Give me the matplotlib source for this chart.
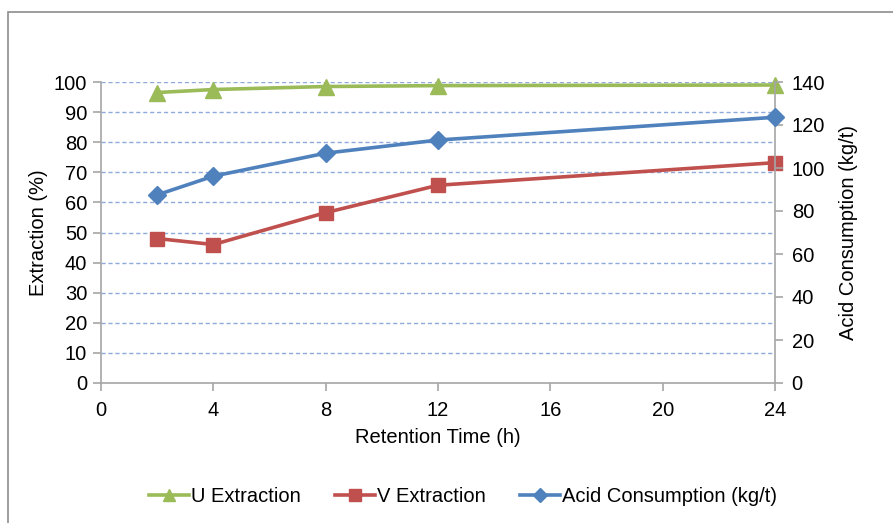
import matplotlib
matplotlib.use("Agg")
import matplotlib.pyplot as plt
from matplotlib.patches import Rectangle
from matplotlib.lines import Line2D

plt.rcParams['font.family'] = ['Liberation Sans', 'DejaVu Sans']

time_h = [2, 4, 8, 12, 24]
u_extraction = [96.5, 97.5, 98.5, 98.8, 99.0]
v_extraction = [48.0, 46.0, 56.6, 65.7, 73.2]
acid_consumption = [87.5, 96.2, 106.9, 113.0, 123.6]

x_ticks = [0, 4, 8, 12, 16, 20, 24]
left_ticks = list(range(0, 101, 10))
right_ticks = list(range(0, 141, 20))

GREEN = '#9BBB59'
RED = '#C0504D'
BLUE = '#4F81BD'
AXIS = '#A6A6A6'
GRID = '#8EAADB'
FS = 14.5

W, H = 893, 523
fig = plt.figure(figsize=(W / 100, H / 100), dpi=100)
fig.patch.set_facecolor('white')

# outer chart frame
fig.add_artist(Rectangle((8 / W, -0.1), 1.2, 1 - 12 / H + 0.1, transform=fig.transFigure,
                         fill=False, edgecolor='#8C8C8C', linewidth=1.2, zorder=0))

ax = fig.add_axes([101 / W, 1 - 383 / H, (775 - 101) / W, (383 - 82) / H])
ax2 = ax.twinx()

ax.set_xlim(0, 24)
ax.set_ylim(0, 100)
ax2.set_ylim(0, 140)
ax.set_xticks(x_ticks)
ax.set_yticks(left_ticks)
ax2.set_yticks(right_ticks)

for a in (ax, ax2):
    for s in a.spines.values():
        s.set_color(AXIS)
        s.set_linewidth(1.2)
    a.spines['top'].set_visible(False)
ax.spines['right'].set_visible(False)
ax2.spines['left'].set_visible(False)
ax2.spines['bottom'].set_visible(False)

ax.tick_params(axis='both', colors=AXIS, labelcolor='black', labelsize=FS,
               length=6, width=1.2, direction='out')
ax2.tick_params(axis='y', colors=AXIS, labelcolor='black', labelsize=FS,
                length=6, width=1.2, direction='out')
ax.tick_params(axis='x', pad=7)
ax.tick_params(axis='y', pad=4)
ax2.tick_params(axis='y', pad=6)

for v in left_ticks[1:]:
    ax.axhline(v, color=GRID, linewidth=1.0, linestyle=(0, (3, 2)), zorder=0.5)

ax.plot(time_h, u_extraction, color=GREEN, linewidth=2.6, marker='^', markersize=12,
        label='U Extraction', zorder=3, clip_on=False)
ax.plot(time_h, v_extraction, color=RED, linewidth=2.6, marker='s', markersize=10.5,
        label='V Extraction', zorder=3, clip_on=False)
ax2.plot(time_h, acid_consumption, color=BLUE, linewidth=2.6, marker='D', markersize=9.5,
         label='Acid Consumption (kg/t)', zorder=3, clip_on=False)

ax.set_xlabel('Retention Time (h)', fontsize=FS, labelpad=6)
ax.set_ylabel('Extraction (%)', fontsize=FS, labelpad=4)
ax2.set_ylabel('Acid Consumption (kg/t)', fontsize=FS, labelpad=10)

handles = [
    Line2D([], [], color=GREEN, linewidth=2.6, marker='^', markersize=8),
    Line2D([], [], color=RED, linewidth=2.6, marker='s', markersize=8),
    Line2D([], [], color=BLUE, linewidth=2.6, marker='D', markersize=7),
]
labels = ['U Extraction', 'V Extraction', 'Acid Consumption (kg/t)']
fig.legend(handles, labels, loc='center', bbox_to_anchor=(463 / W, 1 - 497 / H), ncol=3,
           frameon=False, fontsize=FS, handlelength=2.0, handletextpad=0.1,
           columnspacing=1.7)

fig.savefig('out.png', dpi=100, facecolor='white')
